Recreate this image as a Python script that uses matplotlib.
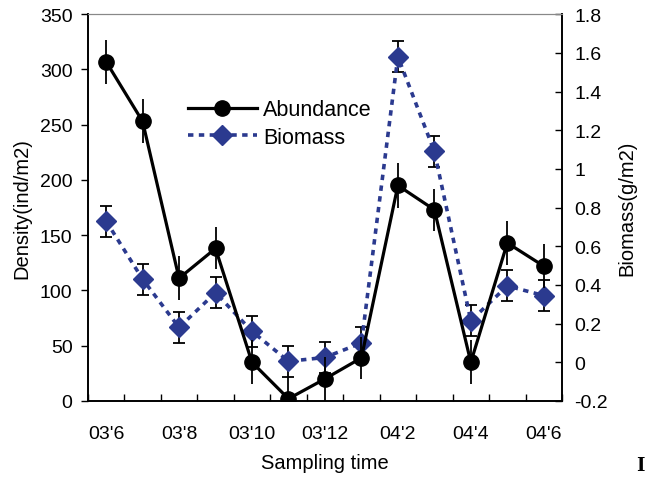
import numpy as np
import matplotlib
matplotlib.use("Agg")
from matplotlib import pyplot as plt

# sampling months (03'6 .. 04'6)
months = ["03'6", "03'7", "03'8", "03'9", "03'10", "03'11", "03'12",
          "04'1", "04'2", "04'3", "04'4", "04'5", "04'6"]
tick_labels = ["03'6", "", "03'8", "", "03'10", "", "03'12",
               "", "04'2", "", "04'4", "", "04'6"]

abundance = [307, 253, 111, 138, 35, 2, 20, 39, 195, 173, 35, 143, 122]
abundance_err = [20, 20, 20, 19, 20, 20, 20, 19, 20, 19, 20, 20, 20]
biomass = [0.73, 0.43, 0.18, 0.36, 0.16, 0.005, 0.025, 0.10, 1.58, 1.09, 0.215, 0.395, 0.345]
biomass_err = [0.08, 0.08, 0.08, 0.08, 0.08, 0.08, 0.08, 0.08, 0.08, 0.08, 0.08, 0.08, 0.08]

plt.rcParams['font.family'] = ['Liberation Sans', 'DejaVu Sans']
blue = '#2B3A8F'
fs = 14

fig = plt.figure(figsize=(6.46, 4.89), dpi=100)
ax = fig.add_axes([0.136, 0.178, 0.734, 0.791])
ax2 = ax.twinx()

x = np.arange(len(months))

ax2.errorbar(x, biomass, yerr=biomass_err, fmt='none', ecolor='black',
             elinewidth=1.3, capsize=4.5, capthick=1.3, zorder=2)
l2, = ax2.plot(x, biomass, color=blue, lw=2.6, dashes=(1.5, 1.5),
               marker='D', markersize=10, markerfacecolor=blue,
               markeredgecolor=blue, zorder=3, label='Biomass')

ax.errorbar(x, abundance, yerr=abundance_err, fmt='none', ecolor='black',
            elinewidth=1.3, capsize=0, zorder=2)
l1, = ax.plot(x, abundance, color='black', lw=2.3, marker='o',
              markersize=11, zorder=3, label='Abundance')

# put the left axis drawings above the twin
ax.set_zorder(ax2.get_zorder() + 1)
ax.patch.set_visible(False)

ax.set_xlim(-0.5, len(months) - 0.5)
ax.set_xticks(x)
ax.set_xticklabels(tick_labels)
ax.set_xticks(np.arange(-0.5, len(months), 1.0), minor=True)
ax.tick_params(axis='x', which='major', length=0, labelsize=fs, pad=17)
ax.tick_params(axis='x', which='minor', direction='in', length=5, width=1)

ax.set_ylim(0, 350)
ax.set_yticks(np.arange(0, 351, 50))
ax.tick_params(axis='y', direction='out', length=5, width=1, labelsize=fs, pad=6)
ax2.set_ylim(-0.2, 1.8)
ax2.set_yticks(np.round(np.arange(-0.2, 1.81, 0.2), 1))
ax2.set_yticklabels(['-0.2', '0', '0.2', '0.4', '0.6', '0.8', '1',
                     '1.2', '1.4', '1.6', '1.8'])
ax2.tick_params(axis='y', direction='in', length=5, width=1, labelsize=fs, pad=9)

for a in (ax, ax2):
    a.spines['top'].set_color('#888888')
    a.spines['top'].set_linewidth(0.8)
    for s in ('left', 'right', 'bottom'):
        a.spines[s].set_linewidth(1.2)

ax.set_xlabel('Sampling time', fontsize=14.5, labelpad=8)
ax.set_ylabel('Density(ind/m2)', fontsize=14.5, labelpad=6)
ax2.set_ylabel('Biomass(g/m2)', fontsize=14.5, labelpad=7)

ax.legend([l1, l2], ['Abundance', 'Biomass'], loc='upper left',
          bbox_to_anchor=(0.211, 0.78), frameon=False, fontsize=15.5,
          handlelength=3.2, handletextpad=0.3, labelspacing=0.3,
          borderpad=0, borderaxespad=0)

fig.text(0.985, 0.048, 'I', fontsize=13, family='DejaVu Serif',
         fontweight='bold', ha='left', va='center')

fig.savefig('out.png', dpi=100)
